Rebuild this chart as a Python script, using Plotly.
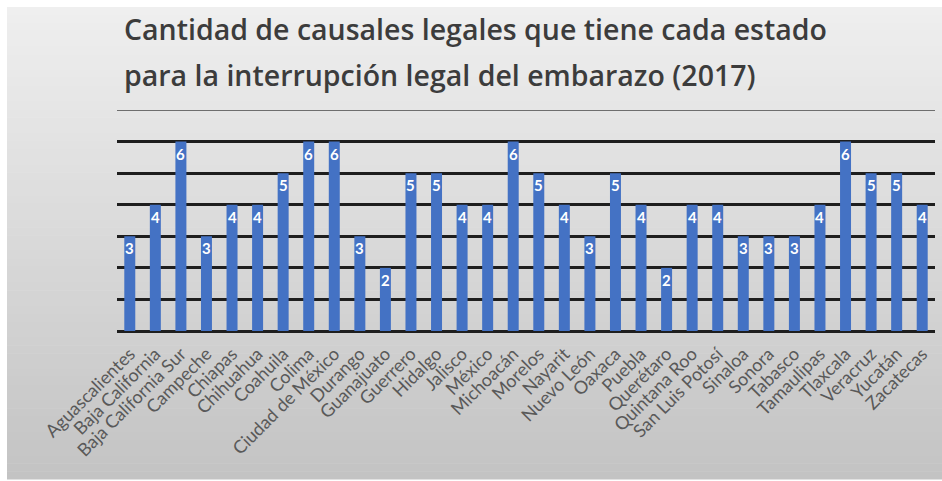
import plotly.graph_objects as go

# Legal grounds for abortion per Mexican state (2017)
estados = [
    "Aguascalientes", "Baja California", "Baja California Sur", "Campeche",
    "Chiapas", "Chihuahua", "Coahuila", "Colima", "Ciudad de México",
    "Durango", "Guanajuato", "Guerrero", "Hidalgo", "Jalisco", "México",
    "Michoacán", "Morelos", "Nayarit", "Nuevo León", "Oaxaca", "Puebla",
    "Querétaro", "Quintana Roo", "San Luis Potosí", "Sinaloa", "Sonora",
    "Tabasco", "Tamaulipas", "Tlaxcala", "Veracruz", "Yucatán", "Zacatecas",
]
causales = [3, 4, 6, 3, 4, 4, 5, 6, 6, 3, 2, 5, 5, 4, 4, 6,
            5, 4, 3, 5, 4, 2, 4, 4, 3, 3, 3, 4, 6, 5, 5, 4]

titulo = [
    "Cantidad de causales legales que tiene cada estado",
    "para la interrupción legal del embarazo (2017)",
]

W, H = 942, 481
ML, MR, MT, MB = 117, 7, 110, 150
PW, PH = W - ML - MR, H - MT - MB


def px_to_paper_x(px):
    return (px - ML) / PW


def px_to_paper_y(py):
    return (H - MB - py) / PH


fig = go.Figure()

fig.add_trace(go.Bar(
    x=estados,
    y=causales,
    marker=dict(color="#4472C4", line=dict(width=0)),
    hoverinfo="skip",
))

# soft grey backdrop, lighter at the top and darker towards the bottom
shapes = []
top_px, bot_px = 7, 479
n = 60
c_top, c_bot = 0xEF, 0xC3
for i in range(n):
    y0 = top_px + (bot_px - top_px) * i / n
    y1 = top_px + (bot_px - top_px) * (i + 1) / n + 0.6
    c = round(c_top + (c_bot - c_top) * (i + 0.5) / n)
    col = f"rgb({c},{c},{c})"
    shapes.append(dict(
        type="rect", xref="paper", yref="paper", layer="below",
        x0=px_to_paper_x(7), x1=px_to_paper_x(W + 2),
        y0=px_to_paper_y(y1), y1=px_to_paper_y(y0),
        fillcolor=col, line=dict(width=0),
    ))

# uppermost gridline is lighter and thinner than the rest
shapes.append(dict(
    type="line", xref="paper", yref="y", layer="below",
    x0=0, x1=1, y0=7, y1=7,
    line=dict(color="#6e6e6e", width=2),
))

annotations = []
for line, py in zip(titulo, [29, 75]):
    annotations.append(dict(
        text=line, xref="paper", yref="paper",
        x=px_to_paper_x(122), y=px_to_paper_y(py),
        xanchor="left", yanchor="middle", showarrow=False,
        font=dict(family="Open Sans", size=28.5, color="#3c3c3c", weight=600),
    ))

# value labels, white, just inside the top of each bar
for est, val in zip(estados, causales):
    annotations.append(dict(
        x=est, y=val, xref="x", yref="y",
        text=str(val), showarrow=False,
        xanchor="center", yanchor="top", yshift=-1,
        font=dict(family="Lato", size=15, color="white", weight="bold"),
    ))

fig.update_layout(
    width=W, height=H,
    margin=dict(l=ML, r=MR, t=MT, b=MB),
    paper_bgcolor="white",
    plot_bgcolor="rgba(0,0,0,0)",
    bargap=0.57,
    showlegend=False,
    shapes=shapes,
    annotations=annotations,
    xaxis=dict(
        tickangle=-45,
        tickfont=dict(family="Lato", size=18, color="#595959"),
        ticklabelstandoff=8,
        showgrid=False, showline=False, zeroline=False,
        ticks="", ticklen=0,
    ),
    yaxis=dict(
        range=[0, 7],
        tickvals=[0, 1, 2, 3, 4, 5, 6],
        showticklabels=False,
        showgrid=True, gridcolor="#1e1e1e", gridwidth=3,
        zeroline=True, zerolinecolor="#1e1e1e", zerolinewidth=3,
        showline=False, ticks="",
        fixedrange=True,
    ),
)

fig.write_html("out.html")
